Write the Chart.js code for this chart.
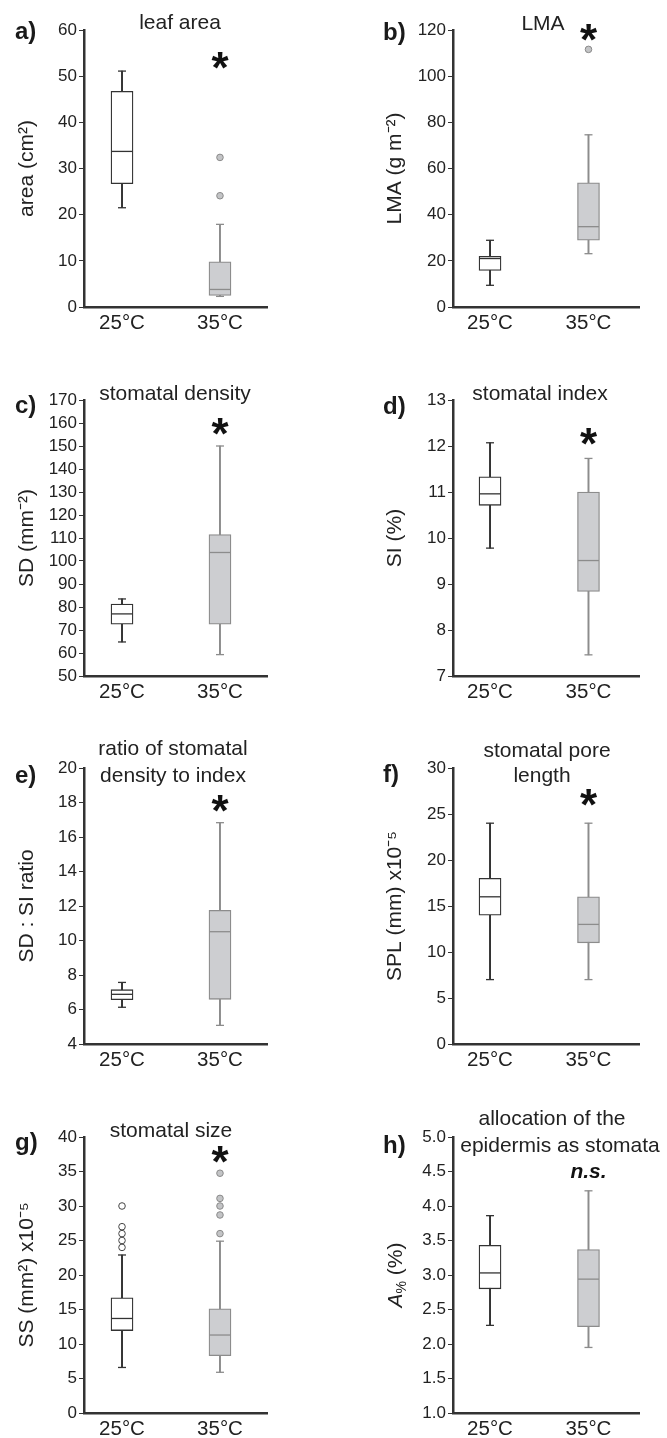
<!DOCTYPE html>
<html><head><meta charset="utf-8">
<script src="https://cdn.jsdelivr.net/npm/chart.js@4.4.0/dist/chart.umd.min.js"></script>
<style>
html,body{margin:0;padding:0;background:#fff;}
body{width:667px;height:1438px;position:relative;overflow:hidden;}
canvas{position:absolute;}
</style></head><body>
<script>
// ---------- DATA ----------
const categories = ['25°C', '35°C'];
// box stats: [min, q1, median, q3, max]
const leafArea25 = [21.5, 26.7, 33.7, 46.7, 51.1];
const leafArea35 = [2.3, 2.5, 3.8, 9.8, 17.9];
const leafAreaOut25 = [];
const leafAreaOut35 = [32.4, 24.1];
const leafAreaTicks = [0, 10, 20, 30, 40, 50, 60];

const lma25 = [9.4, 15.8, 21.0, 22.0, 28.9];
const lma35 = [23.1, 28.9, 34.8, 53.8, 74.6];
const lmaOut25 = [];
const lmaOut35 = [111.6];
const lmaTicks = [0, 20, 40, 60, 80, 100, 120];

const sd25 = [64.8, 72.5, 77.0, 81.3, 83.5];
const sd35 = [59.3, 72.5, 103.7, 111.5, 150.0];
const sdOut25 = [];
const sdOut35 = [];
const sdTicks = [50, 60, 70, 80, 90, 100, 110, 120, 130, 140, 150, 160, 170];

const si25 = [9.78, 10.71, 10.96, 11.33, 12.07];
const si35 = [7.46, 8.84, 9.51, 11.0, 11.73];
const siOut25 = [];
const siOut35 = [];
const siTicks = [7, 8, 9, 10, 11, 12, 13];

const ratio25 = [6.13, 6.57, 6.88, 7.15, 7.57];
const ratio35 = [5.08, 6.59, 10.51, 11.75, 16.83];
const ratioOut25 = [];
const ratioOut35 = [];
const ratioTicks = [4, 6, 8, 10, 12, 14, 16, 18, 20];

const spl25 = [7, 14, 16, 18, 24];
const spl35 = [7, 11, 13, 16, 24];
const splOut25 = [];
const splOut35 = [];
const splTicks = [0, 5, 10, 15, 20, 25, 30];

const ss25 = [6.6, 11.95, 13.7, 16.7, 22.9];
const ss35 = [5.9, 8.3, 11.3, 15.1, 24.9];
const ssOut25 = [30, 27, 26, 25, 24];
const ssOut35 = [34.75, 31.1, 30, 28.7, 26.0];
const ssTicks = [0, 5, 10, 15, 20, 25, 30, 35, 40];

const alloc25 = [2.27, 2.80, 3.03, 3.43, 3.86];
const alloc35 = [1.95, 2.25, 2.94, 3.37, 4.22];
const allocOut25 = [];
const allocOut35 = [];
const allocTicks = [1.0, 1.5, 2.0, 2.5, 3.0, 3.5, 4.0, 4.5, 5.0];

const panelLetters = ['a)', 'b)', 'c)', 'd)', 'e)', 'f)', 'g)', 'h)'];
const panelTitles = [['leaf area'], ['LMA'], ['stomatal density'], ['stomatal index'],
  ['ratio of stomatal', 'density to index'], ['stomatal pore', 'length'],
  ['stomatal size'], ['allocation of the', 'epidermis as stomata']];
const yTitles = ['area (cm²)', 'LMA (g m⁻²)', 'SD (mm⁻²)', 'SI (%)', 'SD : SI ratio',
  'SPL (mm) x10⁻⁵', 'SS (mm²) x10⁻⁵', 'A% (%)'];
const sigMarks = ['*', '*', '*', '*', '*', '*', '*', 'n.s.'];
const sigLevels = [53.2, 118.5, 157.7, 12.17, 17.86, 26.6, 37.3, 4.49];

// ---------- LAYOUT (pixels) ----------
const FONT = '"Liberation Sans", Arial, Helvetica, sans-serif';
Chart.defaults.font.family = FONT;
Chart.defaults.color = '#222';

const cols = [
  {left: 0, width: 333, yW: 84, padR: 66, yTitlePad: 14.4, xmin: 0.612, xmax: 2.480, letterX: 15},
  {left: 333, width: 334, yW: 120, padR: 28, yTitlePad: 50, xmin: 0.624, xmax: 2.513, letterX: 383}
];
const rows = [
  {ct: 0, ch: 345, top: 30, bottom: 307},
  {ct: 345, ch: 370, top: 400, bottom: 676},
  {ct: 705, ch: 380, top: 768, bottom: 1044},
  {ct: 1075, ch: 363, top: 1137, bottom: 1413}
];
const letterY = [39, 40, 413, 414, 783, 782, 1150, 1153];
const titleCX = [[180], [543], [175], [540], [173, 173], [547, 542], [171], [552, 560]];
const titleBY = [[29], [30], [400], [400], [755, 782], [757, 782], [1137], [1125, 1152]];

const panelData = [
  [leafArea25, leafArea35, leafAreaOut25, leafAreaOut35, leafAreaTicks, 0],
  [lma25, lma35, lmaOut25, lmaOut35, lmaTicks, 0],
  [sd25, sd35, sdOut25, sdOut35, sdTicks, 0],
  [si25, si35, siOut25, siOut35, siTicks, 0],
  [ratio25, ratio35, ratioOut25, ratioOut35, ratioTicks, 0],
  [spl25, spl35, splOut25, splOut35, splTicks, 0],
  [ss25, ss35, ssOut25, ssOut35, ssTicks, 0],
  [alloc25, alloc35, allocOut25, allocOut35, allocTicks, 1]
];

const DARK = '#333333';
const GREY = '#8c8c8c';
const FILL35 = '#cdced1';

const annotPlugin = {
  id: 'annot',
  afterDraw(chart, args, o) {
    const ctx = chart.ctx;
    const xs = chart.scales.x, ys = chart.scales.y;
    ctx.save();
    ctx.fillStyle = '#1a1a1a';
    ctx.textBaseline = 'alphabetic';
    ctx.textAlign = 'left';
    ctx.font = 'bold 24px ' + FONT;
    ctx.fillText(o.letter, o.letterX, o.letterY);
    ctx.fillStyle = '#222';
    ctx.textAlign = 'center';
    ctx.font = '21px ' + FONT;
    o.titles.forEach((t, i) => ctx.fillText(t, o.titleX[i], o.titleY[i]));
    const sx = xs.getPixelForValue(2), sy = ys.getPixelForValue(o.sigY);
    ctx.fillStyle = '#111';
    if (o.sig === '*') {
      ctx.font = 'bold 44px ' + FONT;
      ctx.fillText('*', sx, sy + 0.48 * 44);
    } else {
      ctx.font = 'italic bold 21px ' + FONT;
      ctx.textBaseline = 'middle';
      ctx.fillText(o.sig, sx, sy);
    }
    if (o.customYTitle) {
      // A% (%) with italic A and subscript %
      const cx = o.customYTitle.x, cy = (ys.top + ys.bottom) / 2;
      ctx.translate(cx, cy);
      ctx.rotate(-Math.PI / 2);
      ctx.fillStyle = '#222';
      ctx.textAlign = 'left';
      ctx.textBaseline = 'middle';
      const f1 = 'italic 21px ' + FONT, f2 = '14px ' + FONT, f3 = '21px ' + FONT;
      ctx.font = f1; const w1 = ctx.measureText('A').width;
      ctx.font = f2; const w2 = ctx.measureText('%').width;
      ctx.font = f3; const w3 = ctx.measureText(' (%)').width;
      let px = -(w1 + w2 + w3) / 2;
      ctx.font = f1; ctx.fillText('A', px, 0); px += w1;
      ctx.font = f2; ctx.fillText('%', px, 6); px += w2;
      ctx.font = f3; ctx.fillText(' (%)', px, 0);
    }
    ctx.restore();
  }
};
Chart.register(annotPlugin);

panelData.forEach((pd, i) => {
  const [b25, b35, o25, o35, ticksArr, dec] = pd;
  const col = cols[i % 2], row = rows[Math.floor(i / 2)];
  const cv = document.createElement('canvas');
  cv.width = col.width; cv.height = row.ch;
  cv.style.left = col.left + 'px'; cv.style.top = row.ct + 'px';
  cv.style.width = col.width + 'px'; cv.style.height = row.ch + 'px';
  document.body.appendChild(cv);
  const isH = i === 7;
  const pts = (arr, xv) => arr.map(v => ({x: xv, y: v}));

  const datasets = [
    { // whiskers
      type: 'bar', order: 5, grouped: false, barThickness: 1.3,
      data: [{x: 1, y: [b25[0], b25[4]]}, {x: 2, y: [b35[0], b35[4]]}],
      backgroundColor: [DARK, GREY], borderWidth: 0
    },
    { // boxes
      type: 'bar', order: 4, grouped: false, barThickness: 22,
      data: [{x: 1, y: [b25[1], b25[3]]}, {x: 2, y: [b35[1], b35[3]]}],
      backgroundColor: ['#ffffff', FILL35], borderColor: [DARK, GREY],
      borderWidth: 1.3, borderSkipped: false
    },
    { // medians
      type: 'scatter', order: 3,
      data: [{x: 1, y: b25[2]}, {x: 2, y: b35[2]}],
      pointStyle: 'line', pointRadius: 10.5, pointBorderWidth: 1.3,
      pointBorderColor: [DARK, GREY], pointBackgroundColor: [DARK, GREY]
    },
    { // caps
      type: 'scatter', order: 2,
      data: [{x: 1, y: b25[0]}, {x: 1, y: b25[4]}, {x: 2, y: b35[0]}, {x: 2, y: b35[4]}],
      pointStyle: 'line', pointRadius: 4, pointBorderWidth: 1.3,
      pointBorderColor: [DARK, DARK, GREY, GREY]
    },
    { // outliers 25
      type: 'scatter', order: 1, data: pts(o25, 1),
      pointStyle: 'circle', pointRadius: 3.3, pointBorderWidth: 1,
      pointBackgroundColor: '#ffffff', pointBorderColor: '#444'
    },
    { // outliers 35
      type: 'scatter', order: 1, data: pts(o35, 2),
      pointStyle: 'circle', pointRadius: 3.3, pointBorderWidth: 1,
      pointBackgroundColor: '#c3c4c6', pointBorderColor: '#8a8a8a'
    }
  ];

  new Chart(cv, {
    type: 'bar',
    data: {datasets},
    options: {
      responsive: false, animation: false, devicePixelRatio: 1, events: [],
      layout: {padding: {left: 0, right: col.padR, top: row.top - row.ct,
        bottom: row.ch - (row.bottom - row.ct) - 25}},
      plugins: {
        legend: {display: false}, tooltip: {enabled: false}, title: {display: false},
        annot: {
          letter: panelLetters[i], letterX: col.letterX - col.left, letterY: letterY[i] - row.ct,
          titles: panelTitles[i],
          titleX: titleCX[i].map(v => v - col.left), titleY: titleBY[i].map(v => v - row.ct),
          sig: sigMarks[i], sigY: sigLevels[i],
          customYTitle: isH ? {x: 396 - col.left} : null
        }
      },
      scales: {
        x: {
          type: 'linear', min: col.xmin, max: col.xmax, offset: false,
          grid: {display: false, drawTicks: false, offset: false},
          border: {display: true, color: DARK, width: 2.5},
          afterBuildTicks: s => { s.ticks = categories.map((c, k) => ({value: k + 1})); },
          afterFit: s => { s.height = 25; },
          ticks: {autoSkip: false, maxRotation: 0, minRotation: 0, padding: 4, color: '#222',
            font: {size: 20.5}, callback: v => categories[Math.round(v) - 1]}
        },
        y: {
          type: 'linear', min: ticksArr[0], max: ticksArr[ticksArr.length - 1], beginAtZero: false,
          grid: {display: true, drawOnChartArea: false, drawTicks: true, tickLength: 5, color: DARK, lineWidth: 1},
          border: {display: true, color: DARK, width: 2.5},
          afterBuildTicks: s => { s.ticks = ticksArr.map(v => ({value: v})); },
          afterFit: s => { s.width = col.yW; },
          ticks: {autoSkip: false, padding: 2, color: '#222', font: {size: 17},
            callback: v => dec ? v.toFixed(1) : String(v)},
          title: {display: !isH, text: yTitles[i], color: '#222', font: {size: 21},
            padding: {top: col.yTitlePad, bottom: 0}}
        }
      }
    }
  });
});
</script>
</body></html>
